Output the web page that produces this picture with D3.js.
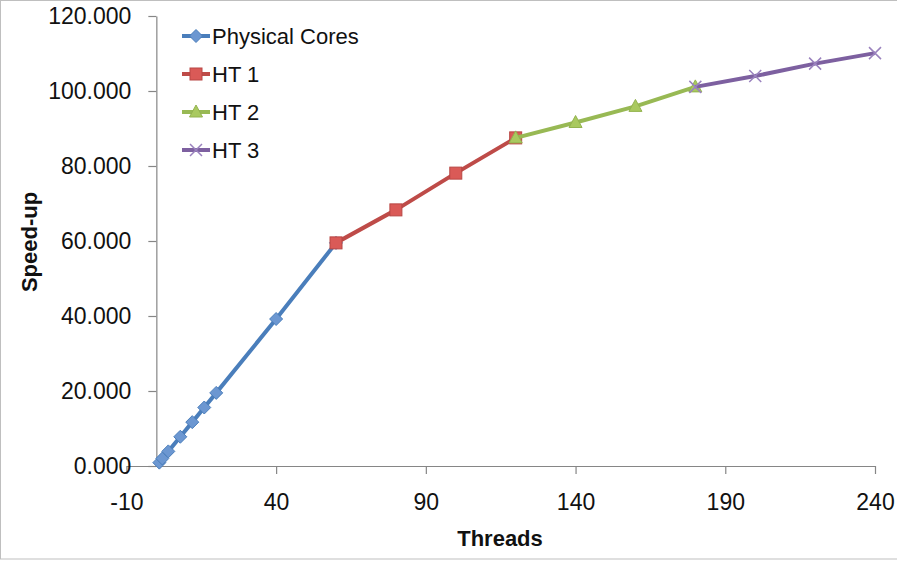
<!DOCTYPE html>
<html>
<head>
<meta charset="utf-8">
<script src="https://cdn.jsdelivr.net/npm/d3@7"></script>
<style>
  body { margin: 0; background: #fff; }
  svg { display: block; font-family: "Liberation Sans", Arial, sans-serif; }
</style>
</head>
<body>
<svg id="chart" width="897" height="563"></svg>
<script>
// data
const physX = [1, 2, 4, 8, 12, 16, 20, 40, 60]
const physY = [0.9, 2.0, 3.9, 7.8, 11.7, 15.6, 19.5, 39.2, 59.5]
const ht1X = [60, 80, 100, 120]
const ht1Y = [59.5, 68.3, 78.1, 87.5]
const ht2X = [120, 140, 160, 180]
const ht2Y = [87.5, 91.6, 95.9, 101.1]
const ht3X = [180, 200, 220, 240]
const ht3Y = [101.1, 104.0, 107.3, 110.1]
const seriesNames = ['Physical Cores', 'HT 1', 'HT 2', 'HT 3']
const xTicks = [-10, 40, 90, 140, 190, 240]
const yTicks = [0, 20, 40, 60, 80, 100, 120]

const series = [
  { name: seriesNames[0], xs: physX, ys: physY, line: '#4A7EBB', fill: '#6C97D1', stroke: '#4A7EBB', shape: 'diamond' },
  { name: seriesNames[1], xs: ht1X, ys: ht1Y, line: '#BE4B48', fill: '#DA5A57', stroke: '#B84744', shape: 'square' },
  { name: seriesNames[2], xs: ht2X, ys: ht2Y, line: '#98B954', fill: '#A9C95F', stroke: '#93B34F', shape: 'triangle' },
  { name: seriesNames[3], xs: ht3X, ys: ht3Y, line: '#7D60A0', fill: 'none', stroke: '#9A82BE', shape: 'cross' }
]

const svg = d3.select('#chart')

// outer frame
svg.append('rect')
  .attr('x', 0.5).attr('y', 0.5)
  .attr('width', 905).attr('height', 558.5)
  .attr('fill', 'none').attr('stroke', '#BFBFBF')

const x = d3.scaleLinear().domain([-10, 240]).range([126.4, 875])
const y = d3.scaleLinear().domain([0, 120]).range([466, 16])

// x axis (sits on y = 0), plain hyphen for negatives like the original
const xAxis = svg.append('g')
  .attr('transform', `translate(0,${y(0)})`)
  .call(d3.axisBottom(x).tickValues(xTicks).tickSize(8).tickSizeOuter(0).tickPadding(20).tickFormat((d) => String(d)))
// y axis (sits on x = 0)
const yAxis = svg.append('g')
  .attr('transform', `translate(${x(0)},0)`)
  .call(d3.axisLeft(y).tickValues(yTicks).tickSize(8).tickSizeOuter(0).tickPadding(17).tickFormat((d) => d.toFixed(3)))

;[xAxis, yAxis].forEach((g) => {
  g.select('.domain').attr('stroke', '#868686').attr('stroke-width', 1.2)
  g.selectAll('.tick line').attr('stroke', '#868686').attr('stroke-width', 1.2)
  g.selectAll('.tick text').attr('fill', '#111').style('font-size', '23px')
})

// axis titles
svg.append('text')
  .attr('x', 500).attr('y', 538)
  .attr('text-anchor', 'middle').attr('dy', '0.35em')
  .style('font-size', '22px').style('font-weight', 'bold').attr('fill', '#111')
  .text('Threads')
svg.append('text')
  .attr('transform', 'translate(29,242) rotate(-90)')
  .attr('text-anchor', 'middle').attr('dy', '0.35em')
  .style('font-size', '22px').style('font-weight', 'bold').attr('fill', '#111')
  .text('Speed-up')

function drawMarker(g, s, cx, cy) {
  if (s.shape === 'diamond') {
    g.append('path')
      .attr('d', `M${cx},${cy - 6.5}L${cx + 6.5},${cy}L${cx},${cy + 6.5}L${cx - 6.5},${cy}Z`)
      .attr('fill', s.fill).attr('stroke', s.stroke).attr('stroke-width', 1)
  } else if (s.shape === 'square') {
    g.append('rect')
      .attr('x', cx - 6).attr('y', cy - 6).attr('width', 12).attr('height', 12)
      .attr('fill', s.fill).attr('stroke', s.stroke).attr('stroke-width', 1)
  } else if (s.shape === 'triangle') {
    g.append('path')
      .attr('d', `M${cx},${cy - 7}L${cx + 6.5},${cy + 5}L${cx - 6.5},${cy + 5}Z`)
      .attr('fill', s.fill).attr('stroke', s.stroke).attr('stroke-width', 1)
  } else {
    g.append('path')
      .attr('d', `M${cx - 6},${cy - 6}L${cx + 6},${cy + 6}M${cx - 6},${cy + 6}L${cx + 6},${cy - 6}`)
      .attr('fill', 'none').attr('stroke', s.stroke).attr('stroke-width', 1.5)
  }
}

const line = d3.line()
  .x((d) => x(d[0]))
  .y((d) => y(d[1]))

series.forEach((s) => {
  const pts = s.xs.map((v, i) => [v, s.ys[i]])
  const g = svg.append('g')
  g.append('path')
    .datum(pts)
    .attr('d', line)
    .attr('fill', 'none')
    .attr('stroke', s.line)
    .attr('stroke-width', 4)
    .attr('stroke-linejoin', 'round')
  pts.forEach((p) => drawMarker(g, s, x(p[0]), y(p[1])))
})

// legend
const legend = svg.append('g')
series.forEach((s, i) => {
  const ly = 36 + i * 38
  legend.append('line')
    .attr('x1', 182).attr('x2', 210).attr('y1', ly).attr('y2', ly)
    .attr('stroke', s.line).attr('stroke-width', 4)
  drawMarker(legend, s, 196, ly)
  legend.append('text')
    .attr('x', 212).attr('y', ly).attr('dy', '0.35em')
    .style('font-size', '22px').attr('fill', '#111')
    .text(s.name)
})
</script>
</body>
</html>
